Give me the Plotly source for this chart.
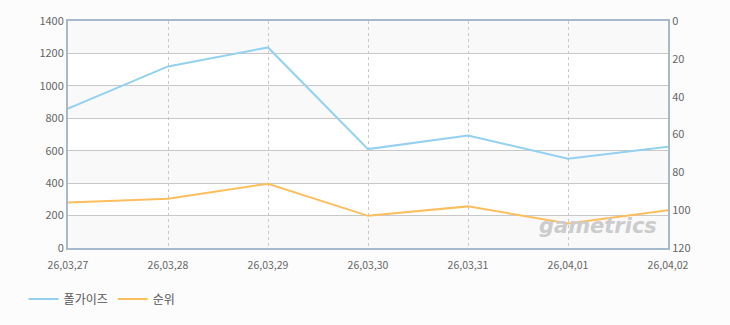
import plotly.graph_objects as go

dates = ["26,03,27", "26,03,28", "26,03,29", "26,03,30", "26,03,31", "26,04,01", "26,04,02"]
fallguys = [860, 1120, 1237, 610, 694, 550, 624]
rank = [96, 94, 86, 103, 98, 107, 100]
left_ticks = [0, 200, 400, 600, 800, 1000, 1200, 1400]
right_ticks = [0, 20, 40, 60, 80, 100, 120]

FONT = "Noto Sans CJK KR"
fig = go.Figure()
fig.add_trace(go.Scatter(x=dates, y=fallguys, name="폴가이즈", mode="lines",
                         line=dict(color="#94d1f0", width=2)))
fig.add_trace(go.Scatter(x=dates, y=rank, name="순위", mode="lines", yaxis="y2",
                         line=dict(color="#fdbe5e", width=2)))

# subtle alternating bands
for i in range(0, len(left_ticks) - 1, 2):
    fig.add_shape(type="rect", xref="paper", yref="y", x0=0, x1=1,
                  y0=left_ticks[i], y1=left_ticks[i + 1],
                  fillcolor="#f9f9f9", line_width=0, layer="below")

fig.add_annotation(text="<b><i>gametrics</i></b>", xref="paper", yref="paper",
                   x=0.985, y=0.035, xanchor="right", yanchor="bottom", showarrow=False,
                   font=dict(family="DejaVu Sans", size=21, color="#cccccc"))

axis_line = "#a7b9cd"
fig.update_layout(
    width=730, height=325,
    margin=dict(l=68, r=62, t=16, b=76),
    paper_bgcolor="#fcfcfc", plot_bgcolor="#ffffff",
    font=dict(family=FONT, size=11, color="#666666"),
    showlegend=True,
    legend=dict(orientation="h", x=-0.074, xanchor="left", y=-0.225, yanchor="middle",
                font=dict(family=FONT, size=12, color="#555555"),
                itemwidth=30, bgcolor="rgba(0,0,0,0)"),
    xaxis=dict(type="category", range=[0, 6], showgrid=True, gridcolor="#c8c8c8",
               griddash="3px,3px", gridwidth=1, showline=True, linecolor=axis_line,
               linewidth=2, mirror=True, ticks="", tickfont=dict(size=10.5),
               zeroline=False, ticklabelstandoff=6),
    yaxis=dict(range=[0, 1400], tickvals=left_ticks, showgrid=True, gridcolor="#c8c8c8",
               showline=True, linecolor=axis_line, linewidth=2, mirror=True,
               ticks="", zeroline=False, ticklabelstandoff=0),
    yaxis2=dict(range=[120, 0], tickvals=right_ticks, overlaying="y", side="right",
                showgrid=False, showline=True, linecolor=axis_line, linewidth=2,
                ticks="", zeroline=False, ticklabelstandoff=0),
)
fig.write_html("out.html")
